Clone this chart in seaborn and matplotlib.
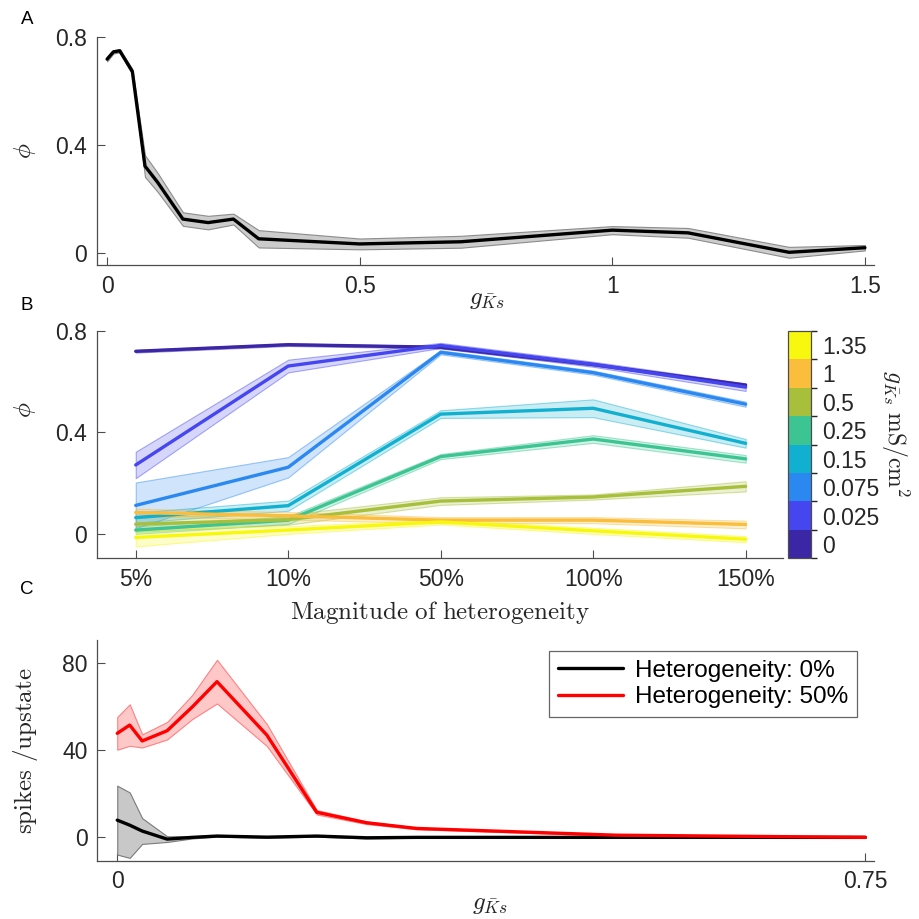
import numpy as np
import pandas as pd
import matplotlib
matplotlib.use("Agg")
import matplotlib.pyplot as plt
import matplotlib as mpl
import seaborn as sns
from matplotlib.colors import ListedColormap, BoundaryNorm

# ---------------- Panel A: phi vs gKs (no heterogeneity) ----------------
gks_a = [0, 0.0125, 0.025, 0.05, 0.075, 0.1, 0.15, 0.2, 0.25, 0.3, 0.5, 0.7, 1.0, 1.15, 1.35, 1.5]
phi_a = [0.718, 0.745, 0.749, 0.672, 0.322, 0.262, 0.126, 0.113, 0.126, 0.053, 0.034, 0.042, 0.085, 0.075, 0.003, 0.02]
phi_a_err = [0.008, 0.006, 0.006, 0.01, 0.04, 0.035, 0.025, 0.025, 0.02, 0.032, 0.02, 0.022, 0.015, 0.018, 0.02, 0.01]

# ---------------- Panel B: phi vs magnitude of heterogeneity ----------------
het_labels = ["5%", "10%", "50%", "100%", "150%"]
gks_levels = ["0", "0.025", "0.075", "0.15", "0.25", "0.5", "1", "1.35"]
level_colors = ["#3b26a6", "#4646f0", "#2a88f0", "#12b0d0", "#3cc592", "#a7bf3b", "#fbbd3c", "#f8f80f"]

phi_b_0 = [0.719, 0.745, 0.735, 0.667, 0.586]
phi_b_0025 = [0.272, 0.661, 0.742, 0.668, 0.578]
phi_b_0075 = [0.113, 0.263, 0.715, 0.635, 0.511]
phi_b_015 = [0.065, 0.112, 0.472, 0.495, 0.357]
phi_b_025 = [0.016, 0.055, 0.305, 0.374, 0.296]
phi_b_05 = [0.039, 0.057, 0.130, 0.146, 0.188]
phi_b_1 = [0.085, 0.072, 0.055, 0.055, 0.038]
phi_b_135 = [-0.013, 0.016, 0.048, 0.013, -0.02]

err_b_0 = [0.005, 0.005, 0.005, 0.005, 0.006]
err_b_0025 = [0.052, 0.025, 0.01, 0.01, 0.015]
err_b_0075 = [0.09, 0.04, 0.008, 0.008, 0.01]
err_b_015 = [0.02, 0.02, 0.015, 0.035, 0.017]
err_b_025 = [0.015, 0.015, 0.01, 0.015, 0.015]
err_b_05 = [0.03, 0.02, 0.015, 0.01, 0.02]
err_b_1 = [0.015, 0.015, 0.012, 0.012, 0.015]
err_b_135 = [0.035, 0.015, 0.01, 0.012, 0.012]

phi_b = [phi_b_0, phi_b_0025, phi_b_0075, phi_b_015, phi_b_025, phi_b_05, phi_b_1, phi_b_135]
err_b = [err_b_0, err_b_0025, err_b_0075, err_b_015, err_b_025, err_b_05, err_b_1, err_b_135]

# ---------------- Panel C: spikes per upstate ----------------
gks_c = [0, 0.0125, 0.025, 0.05, 0.075, 0.1, 0.15, 0.2, 0.25, 0.3, 0.5, 0.75]
spikes_het0 = [7.9, 5.6, 2.9, -0.8, 0.0, 0.6, 0.1, 0.6, -0.2, 0.0, 0.0, 0.0]
spikes_het0_err = [15.8, 15.0, 5.9, 1.3, 0.5, 0.3, 0.3, 0.3, 0.3, 0.2, 0.2, 0.2]
spikes_het50 = [47.7, 51.5, 44.2, 48.9, 59.7, 71.4, 46.9, 11.5, 6.7, 4.1, 1.0, 0.0]
spikes_het50_err = [7.5, 9.5, 3.0, 4.0, 5.5, 10.0, 5.0, 1.0, 0.6, 0.4, 0.3, 0.1]
legend_labels = ["Heterogeneity: 0%", "Heterogeneity: 50%"]

# ---------------- Style ----------------
sns.set_theme(style="ticks")
plt.rcParams["font.family"] = ["Liberation Sans", "DejaVu Sans"]
plt.rcParams["mathtext.fontset"] = "cm"
TICK_FS = 16.5
LABEL_FS = 18
LEGEND_FS = 17.5
AX_COLOR = "#4d4d4d"
TXT_COLOR = "#262626"

fig = plt.figure(figsize=(9.19, 9.19), dpi=100)
W = H = 919.0


def add_axes_px(left, top, right, bottom):
    return fig.add_axes([left / W, 1 - bottom / H, (right - left) / W, (bottom - top) / H])


def style_axes(ax):
    sns.despine(ax=ax)
    for s in ("left", "bottom"):
        ax.spines[s].set_color(AX_COLOR)
        ax.spines[s].set_linewidth(0.9)
    ax.tick_params(direction="in", length=6, width=0.8, color=AX_COLOR,
                   labelsize=TICK_FS, labelcolor=TXT_COLOR, pad=7)


def place_labels(ax, xc, yc):
    """Put axis labels with their centres at the given axes-fraction points."""
    ax.xaxis.set_label_coords(*xc)
    ax.yaxis.set_label_coords(*yc)
    ax.xaxis.label.set_va("center")
    ax.yaxis.label.set_va("center")


ax_a = add_axes_px(97, 37, 874, 265)
ax_b = add_axes_px(97, 330.7, 783.3, 558.3)
ax_cb = add_axes_px(788.3, 330.7, 810.7, 558.3)
ax_c = add_axes_px(97.3, 640, 874.3, 860.7)

# ---- Panel A ----
df_a = pd.DataFrame({"gks": gks_a, "phi": phi_a, "err": phi_a_err})
ax_a.fill_between(df_a["gks"], df_a["phi"] - df_a["err"], df_a["phi"] + df_a["err"],
                  facecolor="#cccccc", edgecolor="#8c8c8c", linewidth=0.8, zorder=1)
sns.lineplot(data=df_a, x="gks", y="phi", ax=ax_a, color="black", linewidth=2.4,
             sort=False, estimator=None, zorder=3)
ax_a.set_xlim(-0.02, 1.518)
ax_a.set_ylim(-0.044, 0.8)
ax_a.set_xticks([0, 0.5, 1, 1.5])
ax_a.set_xticklabels(["0", "0.5", "1", "1.5"])
ax_a.set_yticks([0, 0.4, 0.8])
ax_a.set_yticklabels(["0", "0.4", "0.8"])
style_axes(ax_a)
ax_a.set_xlabel(r"$g_{\bar{K}s}$", fontsize=LABEL_FS, color=TXT_COLOR)
ax_a.set_ylabel(r"$\phi$", fontsize=LABEL_FS, color=TXT_COLOR)
place_labels(ax_a, (0.502, -0.15), (-0.0927, 0.5))

# ---- Panel B ----
xpos = np.arange(1, len(het_labels) + 1)
rows = []
for lvl, vals in zip(gks_levels, phi_b):
    for xp, v in zip(xpos, vals):
        rows.append({"het": xp, "phi": v, "gks": lvl})
df_b = pd.DataFrame(rows)
palette_b = dict(zip(gks_levels, level_colors))
for lvl, vals, errs in zip(gks_levels, phi_b, err_b):
    vals = np.asarray(vals)
    errs = np.asarray(errs)
    col = palette_b[lvl]
    ax_b.fill_between(xpos, vals - errs, vals + errs, facecolor=mpl.colors.to_rgba(col, 0.22),
                      edgecolor=mpl.colors.to_rgba(col, 0.45), linewidth=0.8, zorder=1)
for i, lvl in enumerate(gks_levels):
    sub = df_b[df_b["gks"] == lvl]
    sns.lineplot(data=sub, x="het", y="phi", ax=ax_b, color=palette_b[lvl], linewidth=2.4,
                 sort=False, estimator=None, zorder=3 + i, legend=False)
ax_b.set_xlim(0.746, 5.247)
ax_b.set_ylim(-0.095, 0.8)
ax_b.set_xticks(xpos)
ax_b.set_xticklabels(het_labels)
ax_b.set_yticks([0, 0.4, 0.8])
ax_b.set_yticklabels(["0", "0.4", "0.8"])
style_axes(ax_b)
ax_b.set_xlabel(r"$\mathrm{Magnitude\ of\ heterogeneity}$", fontsize=LABEL_FS, color=TXT_COLOR)
ax_b.set_ylabel(r"$\phi$", fontsize=LABEL_FS, color=TXT_COLOR)
place_labels(ax_b, (0.5, -0.238), (-0.105, 0.652))

# Discrete colorbar for gKs levels
cmap = ListedColormap(level_colors)
norm = BoundaryNorm(np.arange(len(gks_levels) + 1), cmap.N)
cb = fig.colorbar(mpl.cm.ScalarMappable(norm=norm, cmap=cmap), cax=ax_cb,
                  ticks=np.arange(len(gks_levels)) + 0.5)
cb.set_ticklabels(gks_levels)
cb.outline.set_edgecolor(AX_COLOR)
cb.outline.set_linewidth(0.9)
ax_cb.tick_params(direction="in", length=4, width=0.8, color=AX_COLOR,
                  labelsize=TICK_FS, labelcolor=TXT_COLOR, pad=8, left=True, right=True)
ax_cb.set_ylabel(r"$g_{\bar{K}s}\ \mathrm{mS/cm^2}$", fontsize=17, color=TXT_COLOR,
                 rotation=270)
ax_cb.yaxis.set_label_coords(4.76, 0.55)
ax_cb.yaxis.label.set_va("center")

# ---- Panel C ----
df_c = pd.DataFrame({
    "gks": gks_c * 2,
    "spikes": spikes_het0 + spikes_het50,
    "err": spikes_het0_err + spikes_het50_err,
    "cond": [legend_labels[0]] * len(gks_c) + [legend_labels[1]] * len(gks_c),
})
palette_c = {legend_labels[0]: "black", legend_labels[1]: "#ff0000"}
band_c = {legend_labels[0]: ("#c8c8c8", "#7a7a7a"), legend_labels[1]: ("#ffc8c8", "#ff8080")}
for cond in legend_labels:
    sub = df_c[df_c["cond"] == cond]
    fc, ec = band_c[cond]
    ax_c.fill_between(sub["gks"], sub["spikes"] - sub["err"], sub["spikes"] + sub["err"],
                      facecolor=fc, edgecolor=ec, linewidth=0.8, zorder=1)
sns.lineplot(data=df_c, x="gks", y="spikes", hue="cond", palette=palette_c, ax=ax_c,
             linewidth=2.4, sort=False, estimator=None, zorder=3)
ax_c.set_xlim(-0.02, 0.759)
ax_c.set_ylim(-10.7, 90.5)
ax_c.set_xticks([0, 0.75])
ax_c.set_xticklabels(["0", "0.75"])
ax_c.set_yticks([0, 40, 80])
ax_c.set_yticklabels(["0", "40", "80"])
style_axes(ax_c)
ax_c.set_xlabel(r"$g_{\bar{K}s}$", fontsize=LABEL_FS, color=TXT_COLOR)
ax_c.set_ylabel(r"$\mathrm{spikes\ /upstate}$", fontsize=LABEL_FS, color=TXT_COLOR)
place_labels(ax_c, (0.505, -0.198), (-0.0927, 0.5))
leg = ax_c.legend(loc="upper right", bbox_to_anchor=(0.978, 0.95), fontsize=LEGEND_FS,
                  frameon=True, fancybox=False, framealpha=1, edgecolor="#666666",
                  handlelength=2.7, borderpad=0.35, labelspacing=0.2, handletextpad=0.5,
                  borderaxespad=0)
leg.get_frame().set_linewidth(0.9)
for t in leg.get_texts():
    t.set_color("black")

# Panel letters
for letter, ypx in (("A", 20), ("B", 305), ("C", 590)):
    fig.text(27 / W, 1 - ypx / H, letter, fontsize=13.5, color="black", ha="center", va="center")

fig.savefig("out.png", dpi=100)
